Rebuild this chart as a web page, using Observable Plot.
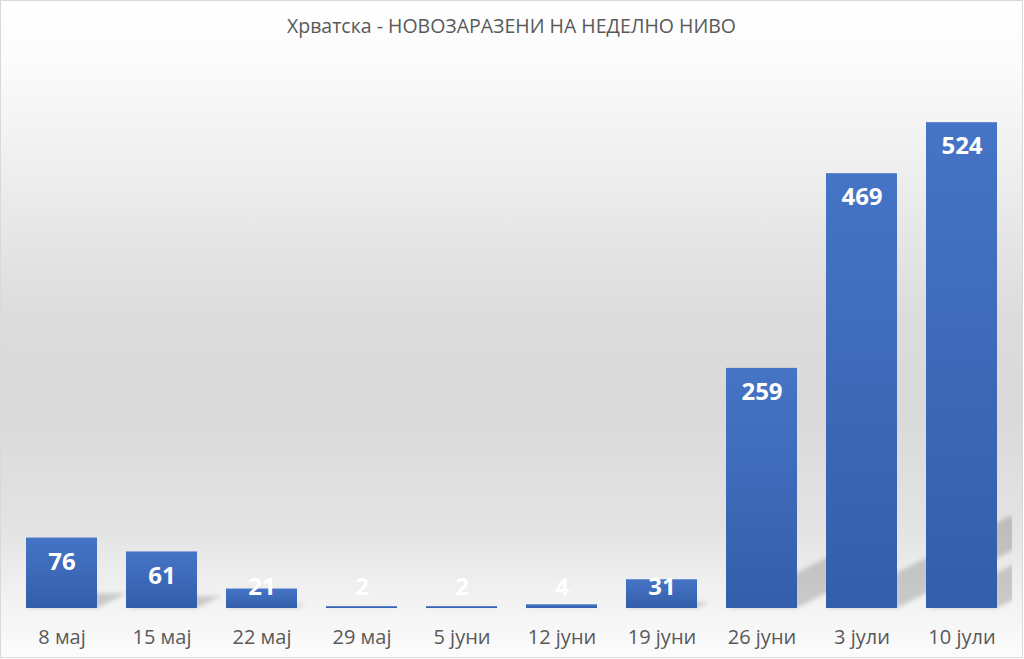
<!DOCTYPE html>
<html><head><meta charset="utf-8">
<script src="https://cdn.jsdelivr.net/npm/d3@7"></script>
<script src="https://cdn.jsdelivr.net/npm/@observablehq/plot@0.6"></script>
<style>
body{margin:0;background:#fff;}
#chart{position:relative;width:1023px;height:658px;box-sizing:border-box;border:1px solid #d9d9d9;
background:linear-gradient(to bottom,#ffffff 0%,#fbfbfb 10%,#efefef 25%,#dcdcdc 48%,#d9d9d9 62%,#e3e3e3 80%,#f3f3f3 92%,#fcfcfc 100%);
overflow:hidden;font-family:"Open Sans",sans-serif;}
#title{position:absolute;left:0;top:0;width:100%;height:50px;line-height:50px;text-align:center;color:#595959;font-size:19.5px;}
#plot{position:absolute;left:0;top:50px;}
</style></head><body>
<div id="chart"><div id="title"></div><div id="plot"></div></div>
<script>
const chartTitle = "Хрватска - НОВОЗАРАЗЕНИ НА НЕДЕЛНО НИВО";
const weeks = ["8 мај","15 мај","22 мај","29 мај","5 јуни","12 јуни","19 јуни","26 јуни","3 јули","10 јули"];
const cases = [76, 61, 21, 2, 2, 4, 31, 259, 469, 524];

const data = weeks.map((w, i) => ({week: w, cases: cases[i]}));
document.getElementById("title").textContent = chartTitle;

const labelFloor = 48.6; // minimum anchor for "inside end" labels on short bars

function shadowMark(index, scales, values, dims) {
  const x = scales.x, y = scales.y;
  const bw = typeof x.bandwidth === "function" ? x.bandwidth() : x.bandwidth;
  const g = d3.create("svg:g");
  const defs = g.append("defs");
  const grad = defs.append("linearGradient").attr("id","barGrad").attr("x1",0).attr("y1",0).attr("x2",0).attr("y2",1);
  grad.append("stop").attr("offset","0%").attr("stop-color","#4674c6");
  grad.append("stop").attr("offset","100%").attr("stop-color","#335ea9");
  defs.append("filter").attr("id","shBlur").attr("filterUnits","userSpaceOnUse")
    .attr("x",0).attr("y",0).attr("width",dims.width).attr("height",dims.height)
    .append("feGaussianBlur").attr("stdDeviation",2.2);
  defs.append("clipPath").attr("id","shClip").append("rect")
    .attr("x",dims.marginLeft).attr("y",0)
    .attr("width",dims.width-dims.marginLeft-dims.marginRight).attr("height",dims.height);
  const gg = g.append("g").attr("clip-path","url(#shClip)");
  gg.selectAll("polygon").data(data).join("polygon")
    .attr("points", d => {
      const x0 = x(d.week), x1 = x0 + bw, yb = y(0), yt = y(d.cases);
      const hs = (yb - yt) * 0.21, sh = hs * 2.0;
      return [[x0,yb],[x1,yb],[x1+sh,yb-hs],[x0+sh,yb-hs]].map(p => p.join(",")).join(" ");
    })
    .attr("fill","#000").attr("fill-opacity",0.17).attr("filter","url(#shBlur)");
  return g.node();
}

const chart = Plot.plot({
  width: 1021,
  height: 606,
  marginLeft: 11,
  marginRight: 10,
  marginTop: 10,
  marginBottom: 49,
  style: {background:"transparent", color:"#595959", fontFamily:"Open Sans, sans-serif", fontSize:"20px", overflow:"visible"},
  x: {type:"band", domain: weeks, paddingInner: 0.29, paddingOuter: 0.145, label: null},
  y: {domain: [0, 590], axis: null},
  marks: [
    shadowMark,
    Plot.barY(data, {x:"week", y:"cases", fill:"url(#barGrad)"}),
    Plot.text(data, {x:"week", y: d => Math.max(d.cases, labelFloor), dy: 24, text: d => String(d.cases),
      fill:"white", fontWeight:"bold", fontSize:24, fontFamily:"Open Sans, sans-serif"}),
    Plot.axisX({tickSize:0, tickPadding:29, lineAnchor:"middle", fontSize:20, label:null})
  ]
});
document.getElementById("plot").appendChild(chart);
</script>
</body></html>
